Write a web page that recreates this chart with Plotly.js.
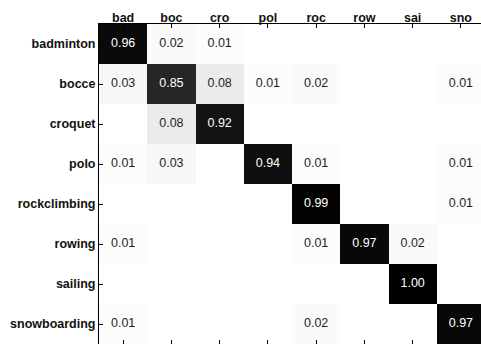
<!DOCTYPE html>
<html>
<head>
<meta charset="utf-8">
<script src="https://cdn.plot.ly/plotly-3.0.1.min.js"></script>
<style>
html,body{margin:0;padding:0;overflow:hidden;background:#fff;}
#chart{width:500px;height:360px;}
</style>
</head>
<body>
<div id="chart"></div>
<script>
// Data
var trueLabels = ['badminton','bocce','croquet','polo','rockclimbing','rowing','sailing','snowboarding'];
var predLabels = ['bad','boc','cro','pol','roc','row','sai','sno'];
var rowBadminton    = [0.96, 0.02, 0.01, 0,    0,    0,    0,    0];
var rowBocce        = [0.03, 0.85, 0.08, 0.01, 0.02, 0,    0,    0.01];
var rowCroquet      = [0,    0.08, 0.92, 0,    0,    0,    0,    0];
var rowPolo         = [0.01, 0.03, 0,    0.94, 0.01, 0,    0,    0.01];
var rowRockclimbing = [0,    0,    0,    0,    0.99, 0,    0,    0.01];
var rowRowing       = [0.01, 0,    0,    0,    0.01, 0.97, 0.02, 0];
var rowSailing      = [0,    0,    0,    0,    0,    0,    1.00, 0];
var rowSnowboarding = [0.01, 0,    0,    0,    0.02, 0,    0,    0.97];

var z = [rowBadminton,rowBocce,rowCroquet,rowPolo,rowRockclimbing,rowRowing,rowSailing,rowSnowboarding];

var tx = [], ty = [], tt = [], tc = [];
for (var i = 0; i < trueLabels.length; i++) {
  for (var j = 0; j < predLabels.length; j++) {
    var v = z[i][j];
    if (v > 0) {
      tx.push(predLabels[j]);
      ty.push(trueLabels[i]);
      tt.push(v.toFixed(2));
      tc.push(v > 0.5 ? '#ffffff' : '#1e1e1e');
    }
  }
}

var FONT = 'Liberation Sans, Arial, Helvetica, sans-serif';

var heat = {
  type: 'heatmap',
  x: predLabels,
  y: trueLabels,
  z: z,
  zmin: 0, zmax: 1,
  colorscale: [[0,'#ffffff'],[1,'#000000']],
  showscale: false,
  hoverinfo: 'skip'
};
var labels = {
  type: 'scatter',
  mode: 'text',
  x: tx, y: ty, text: tt,
  textfont: {family: FONT, size: 12.5, color: tc},
  hoverinfo: 'skip',
  showlegend: false
};

var axisCommon = {
  showline: true, linecolor: '#000', linewidth: 1,
  mirror: 'ticks', ticks: 'inside', ticklen: 4, tickcolor: '#000', tickwidth: 1,
  showgrid: false, zeroline: false,
  tickfont: {family: FONT, size: 12.5, color: '#111', weight: 'bold'}
};

var layout = {
  width: 500, height: 360,
  margin: {l: 99, r: 15, t: 24, b: 16},
  paper_bgcolor: '#fff', plot_bgcolor: '#fff',
  showlegend: false,
  xaxis: Object.assign({}, axisCommon, {side: 'top', type: 'category', categoryorder: 'array', categoryarray: predLabels, range: [-0.5, 7.5], ticklabelstandoff: -4}),
  yaxis: Object.assign({}, axisCommon, {type: 'category', categoryorder: 'array', categoryarray: trueLabels, range: [7.5, -0.5], ticklabelstandoff: 0})
};

Plotly.newPlot('chart', [heat, labels], layout, {staticPlot: true, displayModeBar: false});
</script>
</body>
</html>
